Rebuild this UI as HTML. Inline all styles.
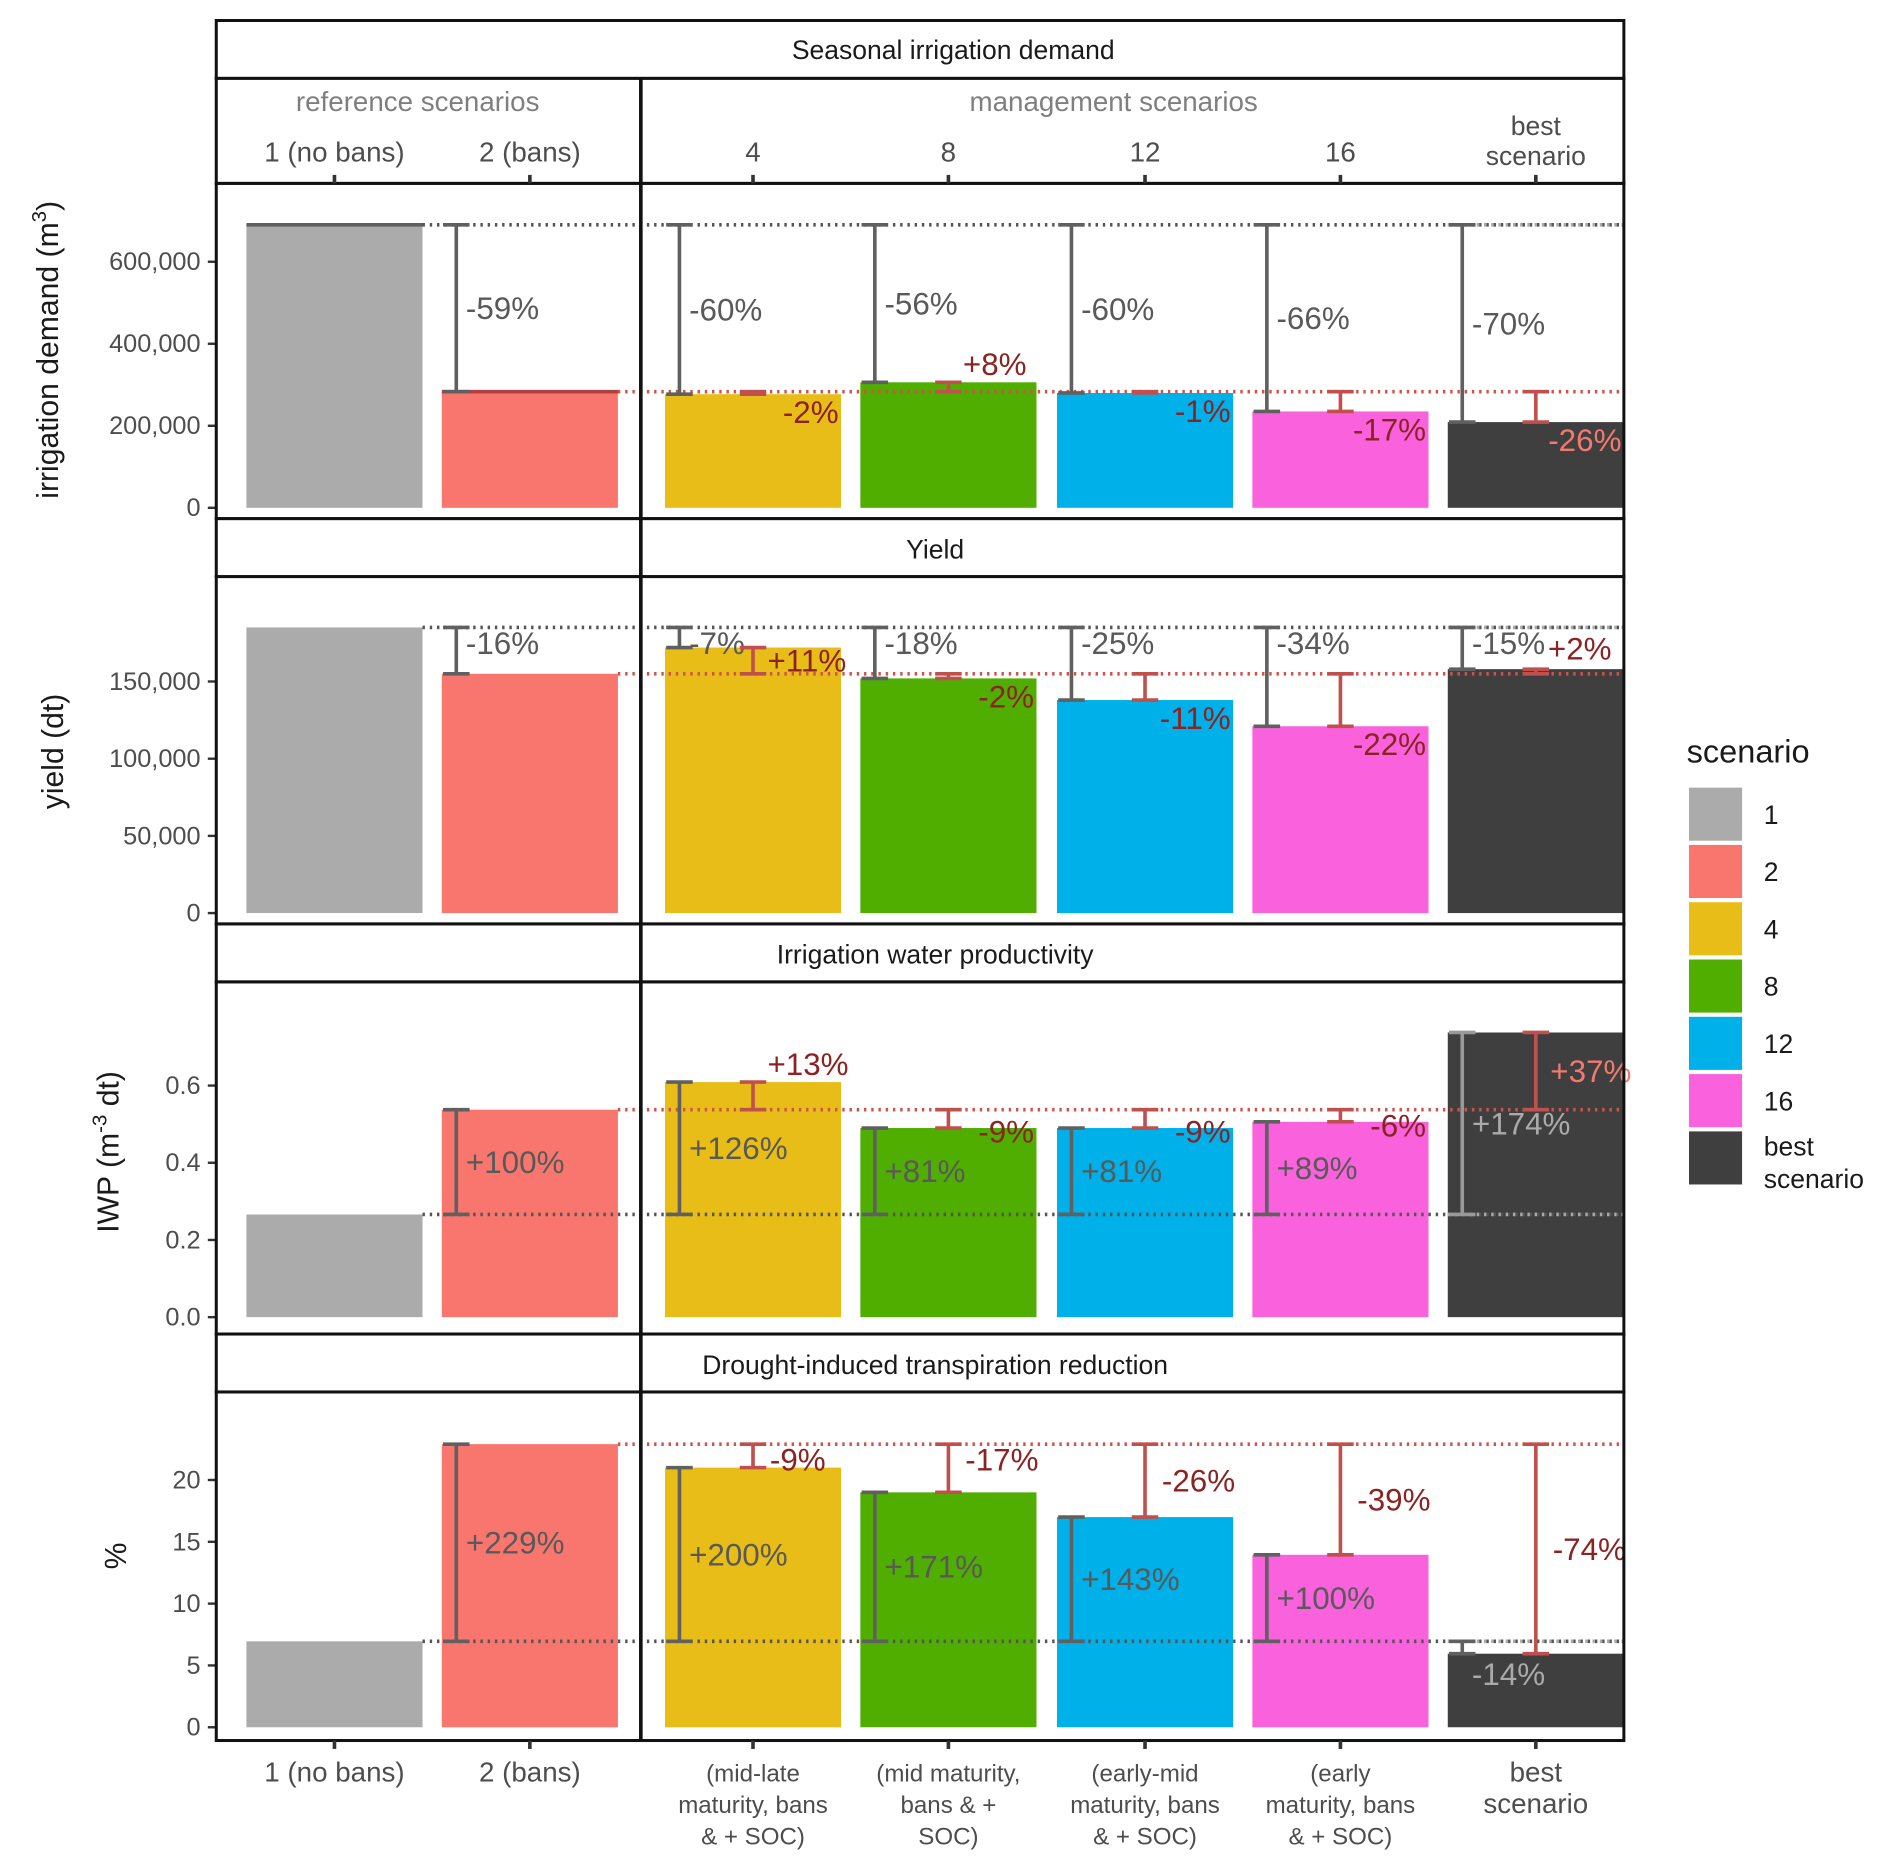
<!DOCTYPE html>
<html><head><meta charset="utf-8"><style>
html,body{margin:0;padding:0;background:#fff}
svg{display:block}
text{font-family:"Liberation Sans",Arial,sans-serif}
</style></head><body>
<svg id="chart" xmlns="http://www.w3.org/2000/svg" width="1892" height="1872" viewBox="0 0 1568 1552"></svg>
<script>
// ---- data ----
const scenarios = ["1","2","4","8","12","16","best"];
const irrigation = [690000, 283000, 277000, 306000, 280000, 235000, 209000];
const yieldVals = [185000, 155000, 172000, 152000, 138000, 121000, 158000];
const iwp = [0.266, 0.5375, 0.609, 0.49, 0.49, 0.506, 0.7375];
const transp = [6.95, 22.9, 21.0, 19.0, 17.0, 13.95, 5.95];
const irrGrayLbl = ["", "-59%", "-60%", "-56%", "-60%", "-66%", "-70%"];
const irrRedLbl = ["", "", "-2%", "+8%", "-1%", "-17%", "-26%"];
const yldGrayLbl = ["", "-16%", "-7%", "-18%", "-25%", "-34%", "-15%"];
const yldRedLbl = ["", "", "+11%", "-2%", "-11%", "-22%", "+2%"];
const iwpGrayLbl = ["", "+100%", "+126%", "+81%", "+81%", "+89%", "+174%"];
const iwpRedLbl = ["", "", "+13%", "-9%", "-9%", "-6%", "+37%"];
const trGrayLbl = ["", "+229%", "+200%", "+171%", "+143%", "+100%", "-14%"];
const trRedLbl = ["", "", "-9%", "-17%", "-26%", "-39%", "-74%"];
const irrTicks = [0, 200000, 400000, 600000];
const yldTicks = [0, 50000, 100000, 150000];
const iwpTicks = [0, 0.2, 0.4, 0.6];
const trTicks = [0, 5, 10, 15, 20];
const colors = ["#ababab","#f8766d","#e8bd17","#4fae00","#00b0e8","#f962dc","#3f3f3f"];
const topLabels = ["1 (no bans)","2 (bans)","4","8","12","16",["best","scenario"]];
const bottomLabels = [["1 (no bans)"],["2 (bans)"],["(mid-late","maturity, bans","& + SOC)"],["(mid maturity,","bans & +","SOC)"],["(early-mid","maturity, bans","& + SOC)"],["(early","maturity, bans","& + SOC)"],["best","scenario"]];

const svg = document.getElementById('chart');
const NS = "http://www.w3.org/2000/svg";
function el(tag, attrs, parent){const e=document.createElementNS(NS,tag);for(const k in attrs)e.setAttribute(k,attrs[k]);(parent||svg).appendChild(e);return e;}
function txt(s, attrs, parent){const e=el('text',attrs,parent);e.textContent=s;return e;}

const L=179, R=1346, DIV=531;
const barLeft = [204,366,551,713,876,1038,1200];
const BW = 146;
const center = i => barLeft[i]+BW/2;
const GRAY="#606060", RED="#c0504d", REDTXT="#8b2323";

const panels = [
 {vals:irrigation, ticks:irrTicks, top:152, bot:430, y0:421, pxPer:68/200000, fmt:v=>v.toLocaleString('en-US'), gl:irrGrayLbl, rl:irrRedLbl, name:'irrigation'},
 {vals:yieldVals, ticks:yldTicks, top:478, bot:766, y0:757, pxPer:64/50000, fmt:v=>v.toLocaleString('en-US'), gl:yldGrayLbl, rl:yldRedLbl, name:'yield'},
 {vals:iwp, ticks:iwpTicks, top:814, bot:1106, y0:1092, pxPer:320, fmt:v=>v.toFixed(1), gl:iwpGrayLbl, rl:iwpRedLbl, name:'iwp'},
 {vals:transp, ticks:trTicks, top:1154, bot:1443, y0:1432, pxPer:10.25, fmt:v=>String(v), gl:trGrayLbl, rl:trRedLbl, name:'transpiration'}
];

panels.forEach((p,pi)=>{
  const g = el('g',{});
  
  
  const y = v => p.y0 - v*p.pxPer;
  p.vals.forEach((v,i)=>{
    const r = el('rect',{x:barLeft[i],y:y(v),width:BW,height:p.y0-y(v),fill:colors[i]},g);
    
    
  });
  const ref=p.vals[0], s2=p.vals[1];
  const dg = el('line',{x1:barLeft[0]+BW,x2:R,y1:y(ref),y2:y(ref),stroke:"#555",'stroke-width':3,'stroke-dasharray':'2 4'},g);
   
  const dgb = el('line',{x1:barLeft[6],x2:R,y1:y(ref),y2:y(ref),stroke:"#aaa",'stroke-width':3,'stroke-dasharray':'2 4'},g);
   
  const dr = el('line',{x1:barLeft[1]+BW,x2:R,y1:y(s2),y2:y(s2),stroke:"#d0524c",'stroke-width':3,'stroke-dasharray':'2 4'},g);
   
  if(pi===0){ el('line',{x1:barLeft[0],x2:barLeft[0]+BW,y1:y(ref),y2:y(ref),stroke:"#606060",'stroke-width':3},g); el('line',{x1:barLeft[1],x2:barLeft[1]+BW,y1:y(s2),y2:y(s2),stroke:"#b04040",'stroke-width':3},g);}
  function ebar(x, a, b, col){
    const eg = el('g',{stroke:col,'stroke-width':3},g);
     
    el('line',{x1:x,x2:x,y1:y(a),y2:y(b)},eg);
    el('line',{x1:x-11,x2:x+11,y1:y(a),y2:y(a)},eg);
    el('line',{x1:x-11,x2:x+11,y1:y(b),y2:y(b)},eg);
  }
  for(let i=1;i<7;i++){
    const v=p.vals[i];
    const gx = barLeft[i]+12;
    const onBest = i===6;
    ebar(gx, ref, v, onBest && v>ref ? "#999" : GRAY);
    let gy = (y(ref)+y(v))/2+9;
    let gcol = onBest && (v>ref || pi===3) ? "#aaa" : "#595959";
    if(pi===1) gy = y(ref)+22;
    else if(Math.abs(y(ref)-y(v))<30){ gy = Math.max(y(ref),y(v))+ (pi===3?26:-2); }
    const t=txt(p.gl[i],{x:gx+8,y:gy,'font-size':26,fill:gcol},g);
    
    
    if(i>=2){
      const cx=center(i);
      ebar(cx, s2, v, RED);
      const up = v>s2;
      const top = Math.min(y(s2),y(v)), bottom=Math.max(y(s2),y(v));
      let ly, lx, anchor='start';
      let rcol = REDTXT;
      if(pi===3){ lx=cx+14; ly=(top+bottom)/2+9; if(bottom-top<40) ly=top+22; }
      else if(up){
        lx=cx+12; ly=top-6;
        if(pi===1){ ly = (i===6) ? top-8 : top+20; if(i===6) lx=cx+10; }
        if(pi===2 && i===6){ly=(top+bottom)/2+9; rcol="#f07a70";}
      }
      else { lx=barLeft[i]+BW-2; anchor='end'; ly=bottom+(pi===2?12:24); if(i===6) rcol="#f07a70"; }
      const rt=txt(p.rl[i],{x:lx,y:ly,'font-size':26,fill:rcol,'text-anchor':anchor},g);
      
      
    }
  }
  p.ticks.forEach(t=>{
    el('line',{x1:172,x2:179,y1:y(t),y2:y(t),stroke:"#333",'stroke-width':2},g);
    const tt=txt(p.fmt(t),{x:166,y:y(t)+7,'font-size':21,fill:"#4d4d4d",'text-anchor':'end'},g);
     
  });
  el('rect',{x:L,y:p.top,width:R-L,height:p.bot-p.top,fill:'none',stroke:'#111','stroke-width':2.5},g);
});

const stripG = el('g',{});
 
el('rect',{x:L,y:17,width:R-L,height:48,fill:'#fff',stroke:'#111','stroke-width':2.5},stripG);
txt("Seasonal irrigation demand",{x:790,y:49,'font-size':22,'text-anchor':'middle',fill:'#1a1a1a'},stripG);
el('rect',{x:L,y:65,width:R-L,height:87,fill:'#fff',stroke:'#111','stroke-width':2.5},stripG);
txt("reference scenarios",{x:346,y:92,'font-size':23,'text-anchor':'middle',fill:'#7f7f7f'},stripG);
txt("management scenarios",{x:923,y:92,'font-size':23,'text-anchor':'middle',fill:'#7f7f7f'},stripG);
[[430,478,"Yield"],[766,814,"Irrigation water productivity"],[1106,1154,"Drought-induced transpiration reduction"]].forEach(s=>{
  el('rect',{x:L,y:s[0],width:R-L,height:s[1]-s[0],fill:'#fff',stroke:'#111','stroke-width':2.5},stripG);
  txt(s[2],{x:775,y:s[0]+33,'font-size':22,'text-anchor':'middle',fill:'#1a1a1a'},stripG);
});
el('line',{x1:DIV,x2:DIV,y1:65,y2:1443,stroke:'#111','stroke-width':3},stripG);

topLabels.forEach((lb,i)=>{
  const cx=center(i);
  el('line',{x1:cx,x2:cx,y1:145,y2:152,stroke:'#333','stroke-width':3});
  if(Array.isArray(lb)){ txt(lb[0],{x:cx,y:112,'font-size':22,'text-anchor':'middle',fill:'#4d4d4d'}); txt(lb[1],{x:cx,y:137,'font-size':22,'text-anchor':'middle',fill:'#4d4d4d'}); }
  else { const t=txt(lb,{x:cx,y:134,'font-size':23,'text-anchor':'middle',fill:'#4d4d4d'});   }
});
bottomLabels.forEach((lines,i)=>{
  const cx=center(i);
  el('line',{x1:cx,x2:cx,y1:1443,y2:1450,stroke:'#333','stroke-width':3});
  const big = i<2 || i===6;
  lines.forEach((s,k)=>{
    const t=txt(s,{x:cx,y:1477+k*26,'font-size':big?23:20,'text-anchor':'middle',fill:'#4d4d4d'});
     
  });
});

function ytitle(x,y,content){const t=el('text',{x:x,y:y,'font-size':25,fill:'#1a1a1a','text-anchor':'middle',transform:`rotate(-90 ${x} ${y})`});t.innerHTML=content;}
ytitle(48,290,'irrigation demand  (m<tspan dy="-10" font-size="17">3</tspan><tspan dy="10">)</tspan>');
ytitle(52,623,'yield (dt)');
ytitle(98,955,'IWP (m<tspan dy="-10" font-size="17">-3</tspan><tspan dy="10"> dt)</tspan>');
ytitle(104,1290,'%');

const lg = el('g',{});
 
txt("scenario",{x:1398,y:632,'font-size':27,fill:'#1a1a1a'},lg);
const legLbl=["1","2","4","8","12","16","best"];
legLbl.forEach((s,i)=>{
  const yy=653+i*47.5;
  const r=el('rect',{x:1400,y:yy,width:44,height:44,fill:colors[i]},lg);
   
  if(i<6) txt(s,{x:1462,y:yy+30,'font-size':22,fill:'#1a1a1a'},lg);
  else { txt("best",{x:1462,y:yy+20,'font-size':22,fill:'#1a1a1a'},lg); txt("scenario",{x:1462,y:yy+47,'font-size':22,fill:'#1a1a1a'},lg); }
});
</script>
</body></html>
